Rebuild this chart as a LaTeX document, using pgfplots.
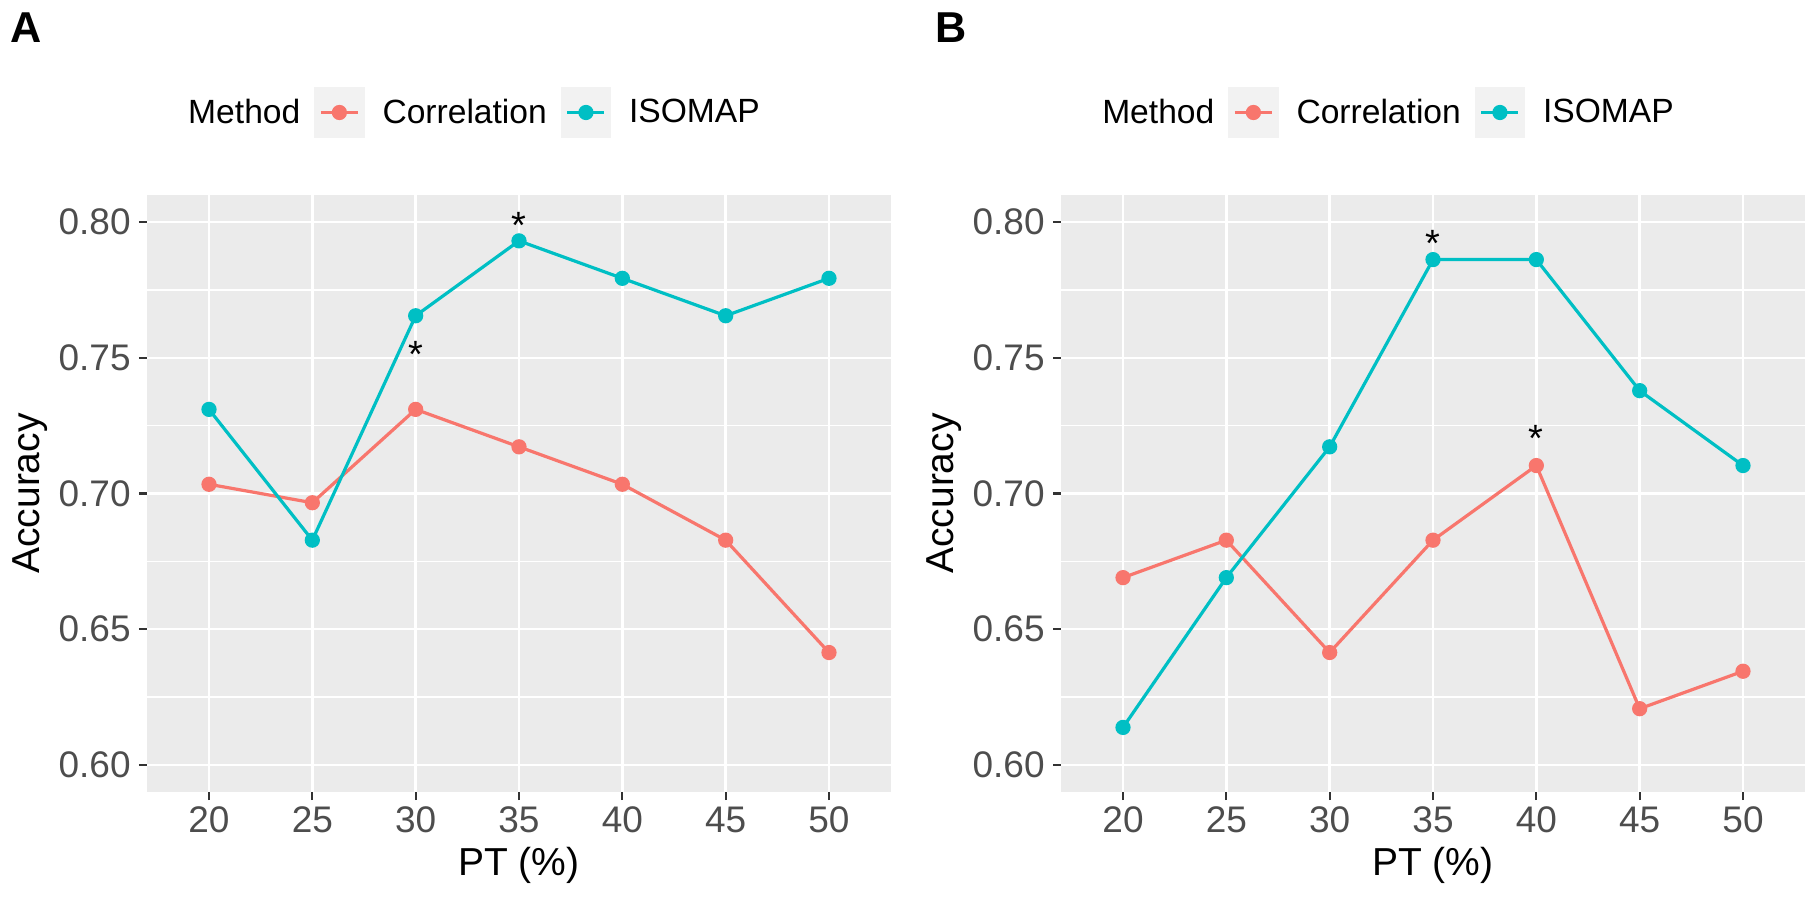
\documentclass[border=0pt]{standalone}
\usepackage{fontspec}
\setmainfont{Liberation Sans}
\usepackage{pgfplots}
\pgfplotsset{compat=1.18}
\definecolor{cR}{HTML}{F8766D}
\definecolor{cB}{HTML}{00BFC4}
\definecolor{panel}{HTML}{EBEBEB}
\definecolor{tickc}{HTML}{333333}
\definecolor{labc}{HTML}{4D4D4D}
\definecolor{keyc}{HTML}{F2F2F2}

\pgfplotsset{
 gg/.style={
  scale only axis, width=372pt, height=298.5pt,
  xmin=17, xmax=53, ymin=0.59, ymax=0.81,
  xtick={20,25,30,35,40,45,50},
  ytick={0.6,0.65,0.7,0.75,0.8},
  minor ytick={0.625,0.675,0.725,0.775},
  grid=both,
  major grid style={white, line width=1.3pt},
  minor grid style={white, line width=0.65pt},
  axis line style={draw=none},
  axis background/.style={fill=panel},
  tick align=outside,
  xtick pos=bottom, ytick pos=left,
  major tick length=4pt, minor tick length=0pt,
  tick style={tickc, line width=1.1pt},
  ticklabel style={font=\fontsize{18.5}{19}\selectfont, text=labc},
  /pgf/number format/assume math mode=true,
  yticklabel style={inner sep=4pt, /pgf/number format/.cd, fixed, fixed zerofill, precision=2},
  xlabel={PT (\%)}, ylabel={Accuracy},
  xlabel style={at={(axis description cs:0.5,0)}, anchor=center, yshift=-36.5pt, font=\fontsize{19.5}{20}\selectfont},
  ylabel style={at={(axis description cs:-0.1573,0.5)}, anchor=center, font=\fontsize{19.5}{20}\selectfont},
  legend style={
    at={(axis description cs:0.5,1)}, anchor=center, yshift=41.25pt, xshift=-27pt,
    draw=none, fill=none, inner sep=0pt, outer sep=0pt,
    font=\fontsize{16.8}{17}\selectfont,
    /tikz/every odd column/.append style={column sep=9pt},
    /tikz/every even column/.append style={column sep=7pt},
    nodes={inner sep=0pt},
  },
  legend columns=-1,
  legend image code/.code={
    \fill[keyc] (0pt,-11.75pt) rectangle (23.5pt,11.75pt);
    \draw[#1] (2.5pt,0pt) -- (21pt,0pt);
    \fill[#1] (11.75pt,0pt) circle (3pt);
  },
 },
 ln/.style={#1, line width=1.6pt, mark=*, mark size=3pt, mark options={solid, draw=none, fill=#1}},
 star/.style={draw=none, mark=none, nodes near coords={*}, point meta=explicit symbolic,
   every node near coord/.style={anchor=base, inner sep=0pt, font=\fontsize{19}{19}\selectfont, text=black}},
}

\begin{document}
\begin{tikzpicture}
\useasboundingbox (0,0) rectangle (908pt,451pt);

\begin{axis}[gg, at={(73.5pt,55pt)}, anchor=south west]
\addlegendimage{empty legend}
\addlegendentry{Method}
\addplot[ln=cR] coordinates {(20,0.7034) (25,0.6966) (30,0.7310) (35,0.7172) (40,0.7034) (45,0.6828) (50,0.6414)};
\addlegendentry{Correlation}
\addplot[ln=cB] coordinates {(20,0.7310) (25,0.6828) (30,0.7655) (35,0.7931) (40,0.7793) (45,0.7655) (50,0.7793)};
\addlegendentry{ISOMAP}
\addplot[star, forget plot] coordinates {(30,0.7463) [*] (35,0.7940) [*]};
\end{axis}

\begin{axis}[gg, at={(530.5pt,55pt)}, anchor=south west]
\addlegendimage{empty legend}
\addlegendentry{Method}
\addplot[ln=cR] coordinates {(20,0.6690) (25,0.6828) (30,0.6414) (35,0.6828) (40,0.7103) (45,0.6207) (50,0.6345)};
\addlegendentry{Correlation}
\addplot[ln=cB] coordinates {(20,0.6138) (25,0.6690) (30,0.7172) (35,0.7862) (40,0.7862) (45,0.7379) (50,0.7103)};
\addlegendentry{ISOMAP}
\addplot[star, forget plot] coordinates {(35,0.7873) [*] (40,0.7153) [*]};
\end{axis}

\node[anchor=north west, inner sep=0pt, font=\bfseries\fontsize{21.6}{22}\selectfont] at (5pt,445pt) {A};
\node[anchor=north west, inner sep=0pt, font=\bfseries\fontsize{21.6}{22}\selectfont] at (467.5pt,445pt) {B};
\end{tikzpicture}
\end{document}
